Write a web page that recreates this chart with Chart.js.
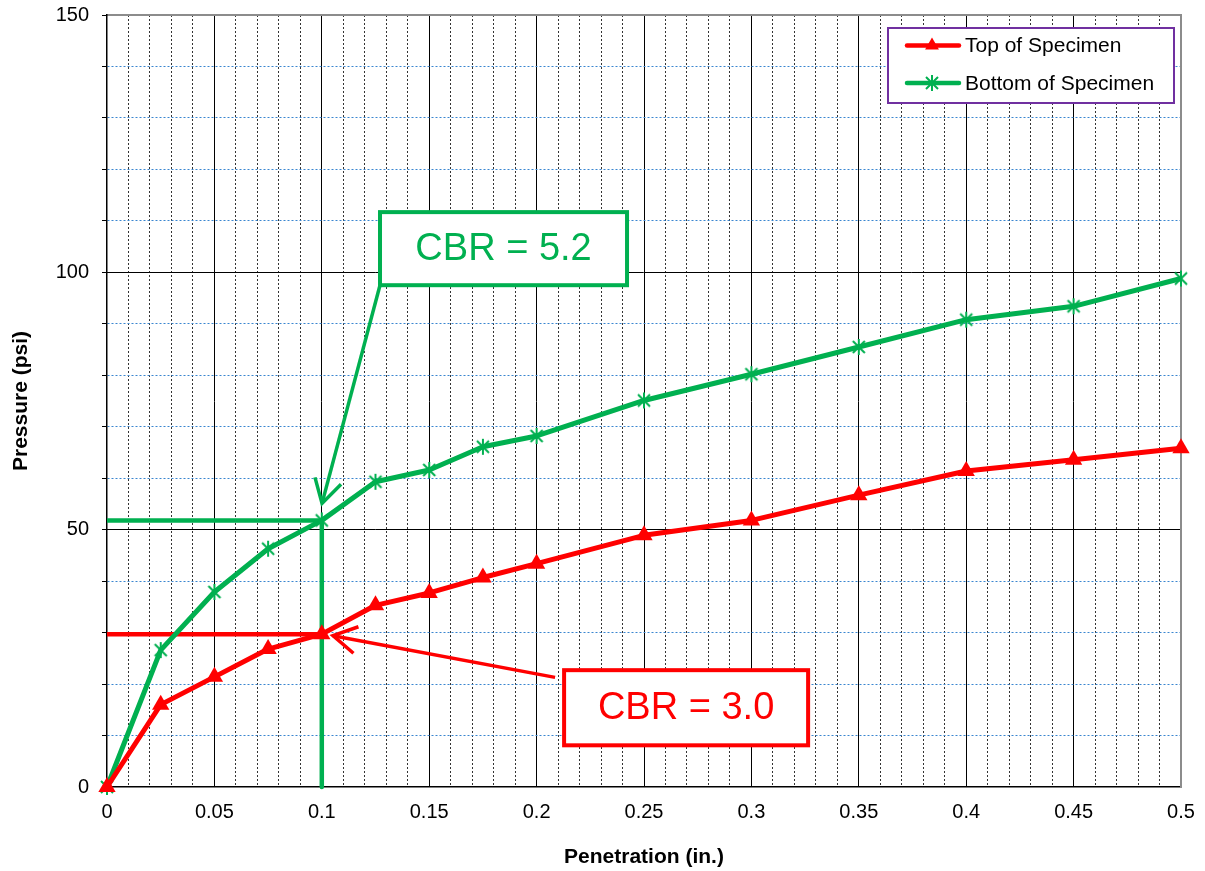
<!DOCTYPE html>
<html><head><meta charset="utf-8">
<script src="https://cdn.jsdelivr.net/npm/chart.js@4"></script>
<style>html,body{margin:0;padding:0;background:#fff;}#wrap{width:1205px;height:871px;position:relative;}</style>
</head><body><div id="wrap"><canvas id="c" width="1205" height="871"></canvas></div>
<script>
// ---- data ----
const penetration = [0, 0.025, 0.05, 0.075, 0.1, 0.125, 0.15, 0.175, 0.2, 0.25, 0.3, 0.35, 0.4, 0.45, 0.5];
const topPressure = [0, 16.0, 21.4, 26.8, 29.7, 35.3, 37.7, 40.7, 43.4, 48.9, 51.8, 56.7, 61.4, 63.6, 65.8];
const bottomPressure = [0, 26.6, 37.9, 46.3, 51.8, 59.3, 61.6, 66.1, 68.2, 75.1, 80.2, 85.5, 90.8, 93.4, 98.8];
const seriesNames = ['Top of Specimen', 'Bottom of Specimen'];
const xTickLabels = ['0','0.05','0.1','0.15','0.2','0.25','0.3','0.35','0.4','0.45','0.5'];
const yTickLabels = ['0','50','100','150'];
const cbrPenetration = 0.1;
const cbrTopPressure = 29.7;
const cbrBottomPressure = 51.8;
const cbrLabels = ['CBR = 5.2', 'CBR = 3.0'];

// ---- style ----
const RED = '#FF0000', GREEN = '#00B050';
const FONT = '"Liberation Sans", Arial, sans-serif';

function asterisk(color){
  const c = document.createElement('canvas'); c.width = 18; c.height = 18;
  const g = c.getContext('2d'); g.strokeStyle = color; g.lineWidth = 2;
  g.beginPath();
  g.moveTo(3,3); g.lineTo(15,15); g.moveTo(15,3); g.lineTo(3,15); g.moveTo(9,1); g.lineTo(9,17);
  g.stroke(); return c;
}
const starImg = asterisk(GREEN);

const pts = (xs, ys) => xs.map((v,i)=>({x:v, y:ys[i]}));

// callout layout (in data coordinates)
const callouts = [
  {text: cbrLabels[0], color: GREEN, box:[0.1271, 111.7, 0.2421, 97.5], from:[0.1271, 97.5], to:[0.1001, 55.1]},
  {text: cbrLabels[1], color: RED,   box:[0.2128, 22.7, 0.3264, 8.1],   from:[0.2086, 21.3], to:[0.1052, 29.4]}
];

const calloutPlugin = {
  id: 'callouts',
  afterDatasetsDraw(chart){
    const {ctx, scales:{x, y}} = chart;
    callouts.forEach(c=>{
      const x1 = x.getPixelForValue(c.from[0]), y1 = y.getPixelForValue(c.from[1]);
      const x2 = x.getPixelForValue(c.to[0]),   y2 = y.getPixelForValue(c.to[1]);
      ctx.save();
      ctx.strokeStyle = c.color; ctx.lineWidth = 3.5; ctx.lineCap = 'butt'; ctx.lineJoin = 'miter';
      ctx.beginPath(); ctx.moveTo(x1,y1); ctx.lineTo(x2,y2); ctx.stroke();
      const a = Math.atan2(y1-y2, x1-x2), L = 27, h = Math.PI/6;
      ctx.beginPath();
      ctx.moveTo(x2 + L*Math.cos(a+h), y2 + L*Math.sin(a+h));
      ctx.lineTo(x2, y2);
      ctx.lineTo(x2 + L*Math.cos(a-h), y2 + L*Math.sin(a-h));
      ctx.stroke();
      const bx1 = x.getPixelForValue(c.box[0]), by1 = y.getPixelForValue(c.box[1]);
      const bx2 = x.getPixelForValue(c.box[2]), by2 = y.getPixelForValue(c.box[3]);
      ctx.fillStyle = '#fff';
      ctx.fillRect(bx1, by1, bx2-bx1, by2-by1);
      ctx.lineWidth = 4;
      ctx.strokeRect(bx1, by1, bx2-bx1, by2-by1);
      ctx.fillStyle = c.color; ctx.font = '38px ' + FONT;
      ctx.textAlign = 'center'; ctx.textBaseline = 'middle';
      ctx.fillText(c.text, (bx1+bx2)/2, (by1+by2)/2 + 1);
      ctx.restore();
    });
  }
};

const legendPlugin = {
  id: 'boxLegend',
  afterDraw(chart){
    const {ctx} = chart;
    const bx = 888, by = 28, bw = 286, bh = 75;
    ctx.save();
    ctx.fillStyle = '#fff'; ctx.fillRect(bx, by, bw, bh);
    ctx.strokeStyle = '#7030A0'; ctx.lineWidth = 2; ctx.strokeRect(bx, by, bw, bh);
    const rows = [45.5, 83];
    [0,1].forEach(i=>{
      const ds = chart.data.datasets[i];
      const yy = rows[i];
      ctx.strokeStyle = ds.borderColor; ctx.lineWidth = 4.5; ctx.lineCap = 'round';
      ctx.beginPath(); ctx.moveTo(907, yy); ctx.lineTo(959, yy); ctx.stroke();
      if (i === 0) {
        ctx.fillStyle = RED; ctx.beginPath();
        const r = 8;
        ctx.moveTo(932, yy - r); ctx.lineTo(932 + r*0.866, yy + r*0.5); ctx.lineTo(932 - r*0.866, yy + r*0.5);
        ctx.closePath(); ctx.fill();
      } else {
        ctx.drawImage(starImg, 932-9, yy-9);
      }
      ctx.fillStyle = '#000'; ctx.font = '21px ' + FONT;
      ctx.textAlign = 'left'; ctx.textBaseline = 'middle';
      ctx.fillText(ds.label, 965, yy + 1);
    });
    ctx.restore();
  }
};

const isMajorX = v => Math.round(v*100) % 5 === 0;
const isMajorY = v => Math.round(v) % 50 === 0;

new Chart(document.getElementById('c'), {
  type: 'line',
  data: {
    datasets: [
      {label: seriesNames[0], data: pts(penetration, topPressure), borderColor: RED, backgroundColor: RED,
       borderWidth: 5, pointStyle: 'triangle', pointRadius: 10, pointBorderWidth: 0, clip: false, order: 1},
      {label: seriesNames[1], data: pts(penetration, bottomPressure), borderColor: GREEN, backgroundColor: GREEN,
       borderWidth: 5, pointStyle: starImg, pointRadius: 9, clip: false, order: 1},
      {label: 'ref-top', data: [{x:0, y:cbrTopPressure},{x:cbrPenetration, y:cbrTopPressure}], borderColor: RED,
       borderWidth: 4.5, pointRadius: 0, clip: false, order: 2},
      {label: 'ref-bottom', data: [{x:0, y:cbrBottomPressure},{x:cbrPenetration, y:cbrBottomPressure},{x:cbrPenetration, y:0}],
       borderColor: GREEN, borderWidth: 4.5, pointRadius: 0, clip: false, order: 2}
    ]
  },
  options: {
    responsive: false, animation: false,
    layout: {padding: {top: 15, right: 24, left: 0, bottom: 0}},
    plugins: {legend: {display: false}, tooltip: {enabled: false}},
    elements: {line: {tension: 0, borderJoinStyle: 'round'}},
    scales: {
      x: {
        type: 'linear', position: 'bottom', min: 0, max: 0.5,
        afterFit(s){ s.height = 84; s.paddingLeft = 0; s.paddingRight = 0; },
        ticks: {stepSize: 0.01, autoSkip: false, maxRotation: 0, padding: 13, color: '#000',
          font: {family: FONT, size: 20},
          callback(v){ const s = String(Math.round(v*100)/100); return xTickLabels.includes(s) && isMajorX(v) ? s : ''; }},
        grid: {color: c => isMajorX(c.tick.value) ? 'rgba(0,0,0,0)' : '#333', lineWidth: 1, drawTicks: false},
        border: {display: true, color: '#000', width: 1.5, dash: [2,2]},
        title: {display: true, text: 'Penetration (in.)', color: '#000', font: {family: FONT, size: 21, weight: 'bold'}, padding: {top: 0, bottom: 1}}
      },
      xMajor: {
        type: 'linear', position: 'top', min: 0, max: 0.5,
        afterFit(s){ s.height = 0; s.paddingLeft = 0; s.paddingRight = 0; },
        ticks: {display: false, stepSize: 0.05, autoSkip: false},
        grid: {color: c => (c.tick.value <= 0 || c.tick.value >= 0.5) ? 'rgba(0,0,0,0)' : '#000', lineWidth: 1, drawTicks: false},
        border: {display: true, color: '#8c8c8c', width: 2}
      },
      y: {
        type: 'linear', position: 'left', min: 0, max: 150,
        afterFit(s){ s.width = 107; s.paddingTop = 0; s.paddingBottom = 0; },
        ticks: {stepSize: 10, autoSkip: false, padding: 13, color: '#000', font: {family: FONT, size: 20},
          callback(v){ const s = String(Math.round(v)); return yTickLabels.includes(s) && isMajorY(v) ? s : ''; }},
        grid: {color: c => isMajorY(c.tick.value) ? 'rgba(0,0,0,0)' : '#3a86d0', lineWidth: 1,
          drawTicks: true, tickLength: 5, tickColor: '#000', tickWidth: 1},
        border: {display: true, color: '#000', width: 1.5, dash: [2,2]},
        title: {display: true, text: 'Pressure (psi)', color: '#000', font: {family: FONT, size: 21, weight: 'bold'}, padding: {top: 9, bottom: 0}}
      },
      yMajor: {
        type: 'linear', position: 'right', min: 0, max: 150,
        afterFit(s){ s.width = 0; s.paddingTop = 0; s.paddingBottom = 0; },
        ticks: {display: false, stepSize: 50, autoSkip: false},
        grid: {color: c => (c.tick.value <= 0 || c.tick.value >= 150) ? 'rgba(0,0,0,0)' : '#000', lineWidth: 1, drawTicks: false},
        border: {display: true, color: '#8c8c8c', width: 2}
      }
    }
  },
  plugins: [calloutPlugin, legendPlugin]
});
</script></body></html>
